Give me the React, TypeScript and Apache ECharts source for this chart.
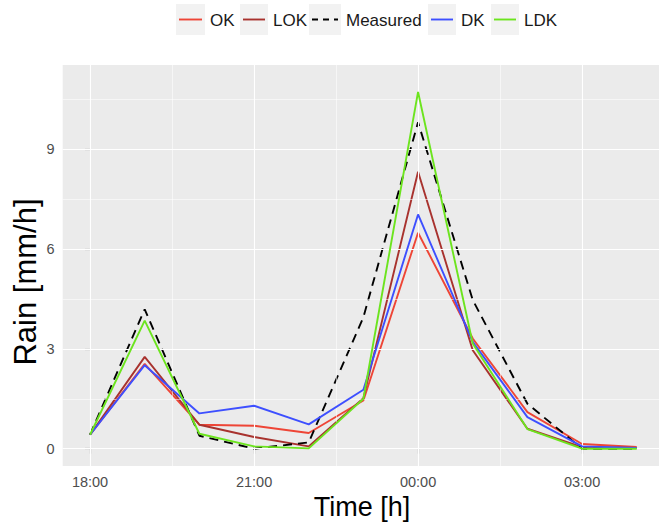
import React, { useEffect, useRef } from "react";
import * as echarts from "echarts";

// Hours after 18:00
const hours = [0, 1, 2, 3, 4, 5, 6, 7, 8, 9, 10];
const tickHours = [0, 3, 6, 9];
const tickLabels = ["18:00", "21:00", "00:00", "03:00"];
const minorHours = [1.5, 4.5, 7.5, 10.5];
const yTicks = [0, 3, 6, 9];
const yMinor = [1.5, 4.5, 7.5, 10.5];

const seriesNames = ["OK", "LOK", "Measured", "DK", "LDK"];
const okValues = [0.42, 2.55, 0.72, 0.69, 0.47, 1.45, 6.49, 3.31, 1.1, 0.14, 0.05];
const lokValues = [0.42, 2.76, 0.72, 0.35, 0.07, 1.52, 8.32, 2.96, 0.6, 0.05, 0.02];
const measuredValues = [0.42, 4.19, 0.39, 0.0, 0.19, 3.95, 9.81, 4.47, 1.35, 0.0, 0.0];
const dkValues = [0.42, 2.51, 1.06, 1.29, 0.73, 1.77, 7.04, 3.21, 0.95, 0.07, 0.02];
const ldkValues = [0.42, 3.85, 0.45, 0.07, 0.01, 1.5, 10.72, 3.16, 0.59, 0.0, 0.0];

const colors = ["#EE4536", "#A8322E", "#000000", "#3D4FFF", "#6CE41E"];
const allValues = [okValues, lokValues, measuredValues, dkValues, ldkValues];

const FONT = "'Liberation Sans', Arial, Helvetica, sans-serif";

export default function App() {
  const ref = useRef<HTMLDivElement>(null);
  useEffect(() => {
    if (!ref.current) return;
    const chart = echarts.init(ref.current, null, { renderer: "svg" });

    const gridSeries: any = {
      type: "line",
      name: "_grid",
      data: [],
      silent: true,
      z: 1,
      markLine: {
        silent: true,
        symbol: "none",
        animation: false,
        label: { show: false },
        data: [
          ...tickHours.map((h) => ({ xAxis: h, lineStyle: { color: "#ffffff", width: 1.1, type: "solid" } })),
          ...minorHours.map((h) => ({ xAxis: h, lineStyle: { color: "#ffffff", width: 0.55, type: "solid" } })),
          ...yTicks.map((v) => ({ yAxis: v, lineStyle: { color: "#ffffff", width: 1.1, type: "solid" } })),
          ...yMinor.map((v) => ({ yAxis: v, lineStyle: { color: "#ffffff", width: 0.55, type: "solid" } })),
        ],
      },
    };

    const dataSeries = seriesNames.map((name, si) => ({
      type: "line",
      name,
      data: hours.map((h, i) => [h, allValues[si][i]]),
      showSymbol: false,
      symbol: "none",
      z: 2 + si,
      lineStyle: {
        color: colors[si],
        width: 1.9,
        type: name === "Measured" ? [9, 6] : "solid",
      },
    }));

    // Legend via graphics
    const legendBoxes = [
      { x: 176, w: 29, tx: 210 },
      { x: 240, w: 28, tx: 273 },
      { x: 309, w: 32, tx: 346 },
      { x: 428, w: 28, tx: 461 },
      { x: 491, w: 28, tx: 524 },
    ];
    const legendGraphics: any[] = [];
    seriesNames.forEach((name, i) => {
      const b = legendBoxes[i];
      legendGraphics.push({
        type: "rect",
        shape: { x: b.x, y: 4, width: b.w, height: 31 },
        style: { fill: "#F2F2F2" },
        silent: true,
      });
      legendGraphics.push({
        type: "line",
        shape: { x1: b.x + 3, y1: 19.5, x2: b.x + b.w - 3, y2: 19.5 },
        style: {
          stroke: colors[i],
          lineWidth: 1.9,
          lineDash: name === "Measured" ? [6, 5] : null,
        },
        silent: true,
      });
      legendGraphics.push({
        type: "text",
        x: b.tx,
        y: 20,
        style: {
          text: name,
          fill: "#1a1a1a",
          font: `17px ${FONT}`,
          align: "left",
          verticalAlign: "middle",
        },
        silent: true,
      });
    });

    chart.setOption({
      animation: false,
      backgroundColor: "#ffffff",
      grid: {
        left: 62.7,
        top: 65,
        width: 596.3,
        height: 401,
        show: true,
        backgroundColor: "#EBEBEB",
        borderWidth: 0,
        containLabel: false,
      },
      xAxis: {
        type: "value",
        min: -0.5,
        max: 10.407,
        axisLine: { show: false },
        splitLine: { show: false },
        axisTick: {
          show: true,
          customValues: tickHours,
          length: 5,
          lineStyle: { color: "#333333", width: 1.1 },
        },
        axisLabel: {
          show: true,
          customValues: tickHours,
          margin: 8,
          color: "#4D4D4D",
          fontFamily: FONT,
          fontSize: 14.5,
          formatter: (v: number) => {
            const idx = tickHours.indexOf(Math.round(v));
            return idx >= 0 ? tickLabels[idx] : "";
          },
        },
      },
      yAxis: {
        type: "value",
        min: -0.52,
        max: 11.53,
        axisLine: { show: false },
        splitLine: { show: false },
        axisTick: {
          show: true,
          customValues: yTicks,
          length: 5,
          lineStyle: { color: "#333333", width: 1.1 },
        },
        axisLabel: {
          show: true,
          customValues: yTicks,
          margin: 8,
          color: "#4D4D4D",
          fontFamily: FONT,
          fontSize: 14.5,
          formatter: (v: number) => String(Math.round(v)),
        },
      },
      graphic: [
        ...legendGraphics,
        {
          type: "text",
          x: 362,
          y: 507,
          style: {
            text: "Time [h]",
            fill: "#000000",
            font: `27px ${FONT}`,
            align: "center",
            verticalAlign: "middle",
          },
          silent: true,
        },
        {
          type: "text",
          x: 25,
          y: 282,
          rotation: Math.PI / 2,
          style: {
            text: "Rain [mm/h]",
            fill: "#000000",
            font: `31px ${FONT}`,
            align: "center",
            verticalAlign: "middle",
          },
          silent: true,
        },
      ],
      series: [gridSeries, ...dataSeries],
    });

    return () => chart.dispose();
  }, []);

  return (
    <div
      ref={ref}
      style={{ position: "fixed", left: 0, top: 0, width: 659, height: 526 }}
    />
  );
}
